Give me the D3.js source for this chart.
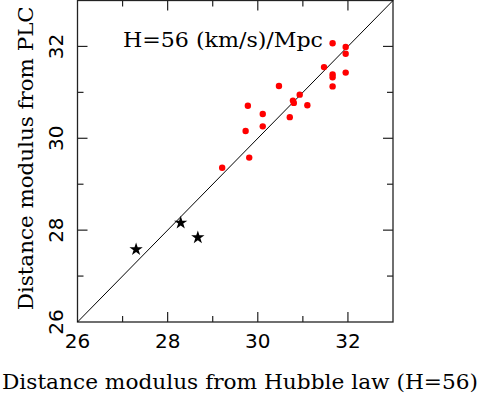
<!DOCTYPE html>
<html>
<head>
<meta charset="utf-8">
<script src="https://cdn.jsdelivr.net/npm/d3@7"></script>
<style>
  body { margin: 0; background: white; }
  svg { display: block; }
</style>
</head>
<body>
<div id="chart"></div>
<script>
// galaxies with distances (red dots)
var dotX = [31.66, 31.95, 31.95, 31.47, 31.66, 31.66, 31.95, 31.66, 30.47, 30.93,
            30.78, 30.80, 31.10, 29.78, 30.11, 30.71, 29.73, 30.11, 29.81, 29.21];
var dotY = [32.07, 31.99, 31.84, 31.55, 31.39, 31.33, 31.43, 31.13, 31.14, 30.95,
            30.82, 30.77, 30.72, 30.71, 30.53, 30.46, 30.16, 30.26, 29.58, 29.36];
// calibrators (stars)
var starX = [27.30, 28.29, 28.67];
var starY = [27.58, 28.16, 27.84];
var tickLabels = [26, 28, 30, 32];
var minorTicks = [27, 29, 31, 33];

var width = 481, height = 395;
var svg = d3.select("#chart").append("svg")
  .attr("width", width)
  .attr("height", height);

var pLeft = 77.5, pRight = 393, pTop = 0.5, pBottom = 322;
var serif = "'DejaVu Serif', serif";
var sans = "'DejaVu Sans', sans-serif";

var x = d3.scaleLinear().domain([26, 33]).range([pLeft, pRight]);
var y = d3.scaleLinear().domain([26, 33]).range([pBottom, pTop]);

// frame
svg.append("rect")
  .attr("x", pLeft).attr("y", pTop)
  .attr("width", pRight - pLeft).attr("height", pBottom - pTop)
  .attr("fill", "none")
  .attr("stroke", "#222")
  .attr("stroke-width", 1.3);

// inward ticks on all four sides
var allTicks = tickLabels.concat(minorTicks).filter(function(d) { return d > 26 && d < 33; });
function tickLen(d) { return tickLabels.indexOf(d) >= 0 ? 10 : 6; }

var tg = svg.append("g").attr("stroke", "#222").attr("stroke-width", 1.2);
allTicks.forEach(function(d) {
  tg.append("line").attr("x1", x(d)).attr("x2", x(d)).attr("y1", pBottom).attr("y2", pBottom - tickLen(d));
  tg.append("line").attr("x1", x(d)).attr("x2", x(d)).attr("y1", pTop).attr("y2", pTop + tickLen(d));
  tg.append("line").attr("y1", y(d)).attr("y2", y(d)).attr("x1", pLeft).attr("x2", pLeft + tickLen(d));
  tg.append("line").attr("y1", y(d)).attr("y2", y(d)).attr("x1", pRight).attr("x2", pRight - tickLen(d));
});

// tick labels
svg.selectAll(".xlab")
  .data(tickLabels)
  .enter()
  .append("text")
  .attr("x", function(d) { return x(d); })
  .attr("y", 348)
  .attr("text-anchor", "middle")
  .attr("font-family", sans)
  .attr("font-size", 20)
  .text(function(d) { return d; });

svg.selectAll(".ylab")
  .data(tickLabels)
  .enter()
  .append("text")
  .attr("transform", function(d) { return "translate(63," + y(d) + ") rotate(-90)"; })
  .attr("text-anchor", "middle")
  .attr("font-family", sans)
  .attr("font-size", 20)
  .text(function(d) { return d; });

// one-to-one line
svg.append("line")
  .attr("x1", x(26)).attr("y1", y(26))
  .attr("x2", x(33)).attr("y2", y(33))
  .attr("stroke", "black")
  .attr("stroke-width", 1);

// red dots
svg.selectAll(".dot")
  .data(dotX)
  .enter()
  .append("circle")
  .attr("cx", function(d) { return x(d); })
  .attr("cy", function(d, i) { return y(dotY[i]); })
  .attr("r", 3.2)
  .attr("fill", "red");

// stars
var star = d3.symbol().type(d3.symbolStar).size(55);
svg.selectAll(".star")
  .data(starX)
  .enter()
  .append("path")
  .attr("d", star)
  .attr("transform", function(d, i) { return "translate(" + x(d) + "," + y(starY[i]) + ")"; })
  .attr("fill", "black");

// texts
svg.append("text")
  .attr("x", 123)
  .attr("y", 47)
  .attr("font-family", serif)
  .attr("font-size", 20)
  .attr("textLength", 200)
  .attr("lengthAdjust", "spacingAndGlyphs")
  .text("H=56 (km/s)/Mpc");

svg.append("text")
  .attr("x", 240)
  .attr("y", 389)
  .attr("text-anchor", "middle")
  .attr("font-family", serif)
  .attr("font-size", 20)
  .attr("textLength", 476)
  .attr("lengthAdjust", "spacingAndGlyphs")
  .text("Distance modulus from Hubble law (H=56)");

svg.append("text")
  .attr("transform", "translate(33," + ((pTop + pBottom) / 2 - 3) + ") rotate(-90)")
  .attr("text-anchor", "middle")
  .attr("font-family", serif)
  .attr("font-size", 20)
  .attr("textLength", 304)
  .attr("lengthAdjust", "spacingAndGlyphs")
  .text("Distance modulus from PLC");
</script>
</body>
</html>
